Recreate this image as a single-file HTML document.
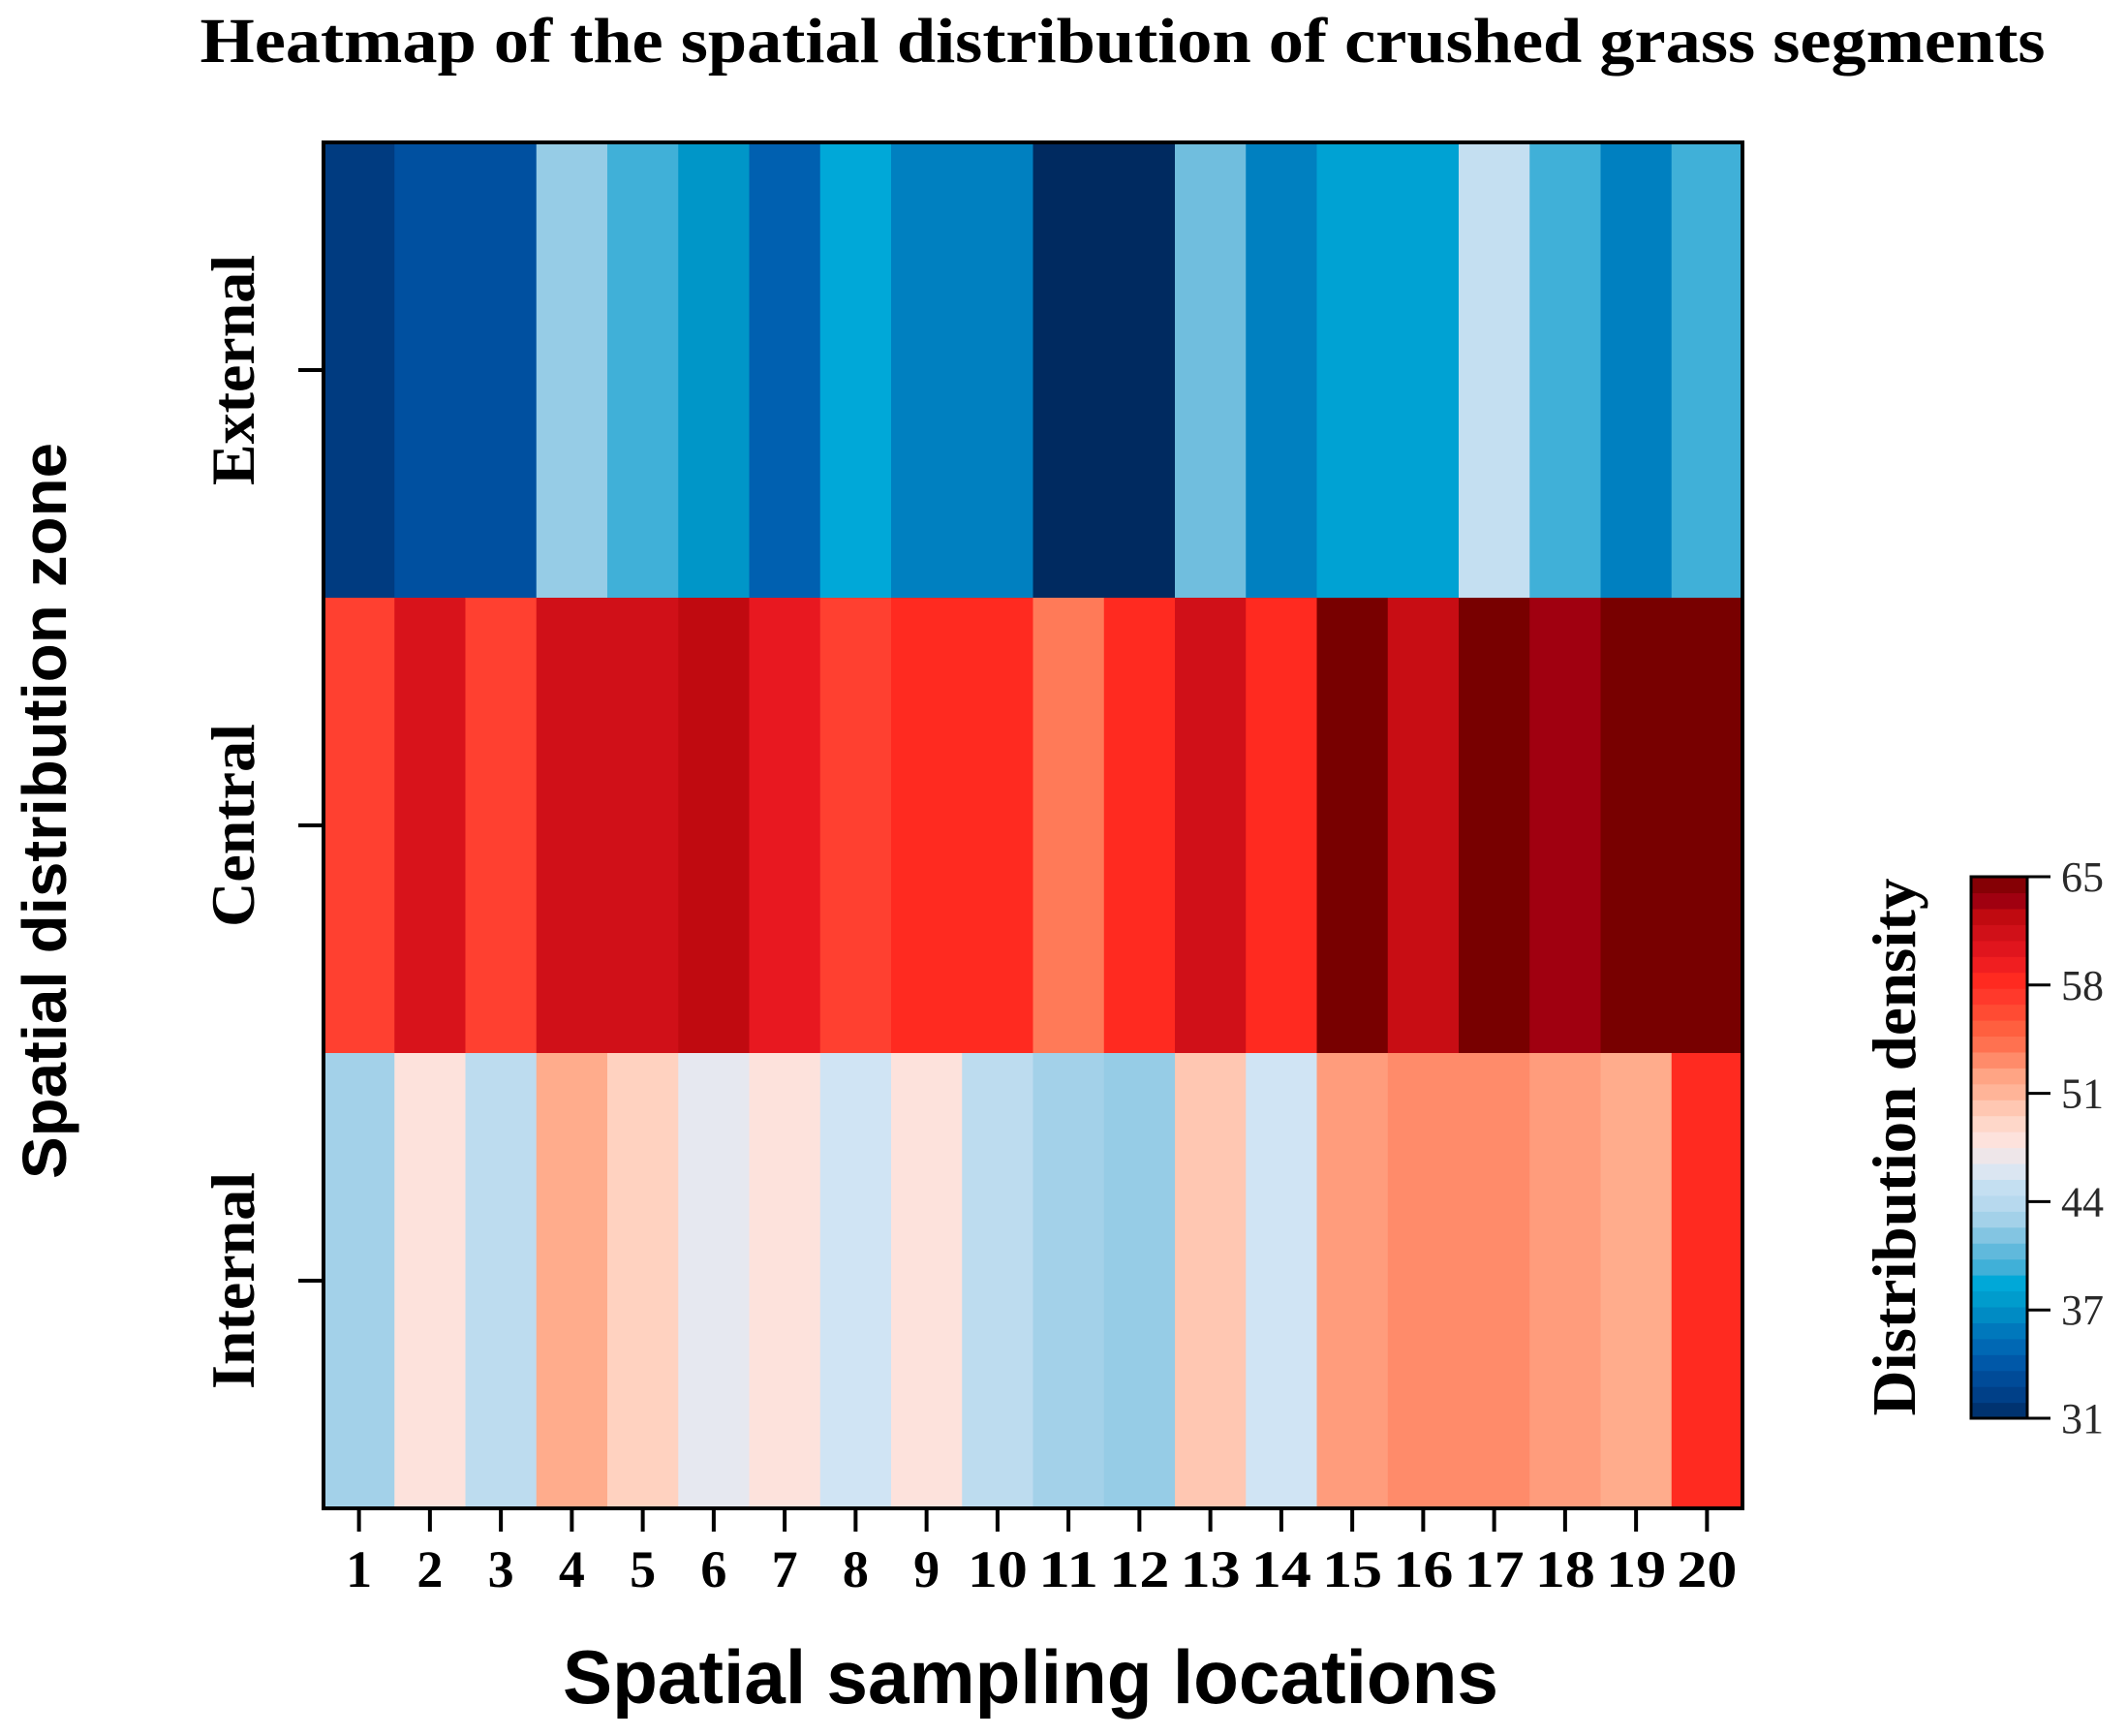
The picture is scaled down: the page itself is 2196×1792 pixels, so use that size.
<!DOCTYPE html>
<html><head><meta charset="utf-8"><style>
html,body{margin:0;padding:0;background:#fff;}
svg{display:block;}
</style></head><body>
<svg id="chart" width="2196" height="1792" viewBox="0 0 2196 1792" xmlns="http://www.w3.org/2000/svg">
<text x="1159" y="64" text-anchor="middle" font-family="Liberation Serif, serif" font-weight="bold" font-size="66" textLength="1905" lengthAdjust="spacingAndGlyphs">Heatmap of the spatial distribution of crushed grass segments</text>
<g id="cells"></g>
<rect x="334" y="147" width="1465" height="1410" fill="none" stroke="#000" stroke-width="4"/>
<g id="axes"></g>
<text transform="translate(68,837) rotate(-90)" text-anchor="middle" font-family="Liberation Sans, sans-serif" font-weight="bold" font-size="64" textLength="760" lengthAdjust="spacingAndGlyphs">Spatial distribution zone</text>
<text x="1064" y="1758" text-anchor="middle" font-family="Liberation Sans, sans-serif" font-weight="bold" font-size="78" textLength="966" lengthAdjust="spacingAndGlyphs">Spatial sampling locations</text>
<g id="cbar"></g>
<text transform="translate(1977,1184) rotate(-90)" text-anchor="middle" font-family="Liberation Serif, serif" font-weight="bold" font-size="64" textLength="555" lengthAdjust="spacingAndGlyphs">Distribution density</text>
</svg>
<script>
const categories = ["1","2","3","4","5","6","7","8","9","10","11","12","13","14","15","16","17","18","19","20"];
const zones = ["External","Central","Internal"];
const externalValues = [32,34,34,43,40.5,38,35,39.5,37,37,31,31,42,37,39,39,45.5,40.5,37,40.5];
const centralValues = [57,61,57,61.5,61.5,62.5,60,57,58.5,58.5,54,58.5,61.5,58.5,65,62,65,63.5,65,65];
const internalValues = [43.5,48.5,45,52,50,47,48.5,46,48.5,45,43.5,43,50.5,46,53,53.5,53.5,53,52,58.5];
const colorMin = 31, colorMax = 65;
const colorTicks = [31,37.8,44.6,51.4,58.2,65];

const stops = [[31,"#002a60"],[32,"#003b80"],[34,"#0050a0"],[35,"#0060b0"],[37,"#0080c0"],[38,"#0096c8"],[39.5,"#00a8d8"],[40.5,"#40b0d8"],[42,"#70bede"],[43,"#96cce6"],[44,"#b0d6ec"],[45.5,"#c4dff1"],[46,"#d0e4f4"],[47,"#e6e8f0"],[48.5,"#fde2dc"],[50,"#ffd2c0"],[51,"#ffbca4"],[52,"#ffac8c"],[53,"#ff9c7c"],[54,"#ff7a58"],[56,"#ff5636"],[57,"#ff4030"],[58.5,"#ff2a20"],[60,"#e81820"],[61.5,"#d01018"],[62.5,"#c00a10"],[63.5,"#a00010"],[65,"#780000"]];
function hex(c){return [1,3,5].map(i=>parseInt(c.substr(i,2),16));}
function color(v){
  if(v<=stops[0][0]) return stops[0][1];
  for(let i=1;i<stops.length;i++){
    if(v<=stops[i][0]){
      const a=stops[i-1],b=stops[i],t=(v-a[0])/(b[0]-a[0]);
      const ca=hex(a[1]),cb=hex(b[1]);
      return "rgb("+ca.map((x,k)=>Math.round(x+(cb[k]-x)*t)).join(",")+")";
    }
  }
  return stops[stops.length-1][1];
}
const NS="http://www.w3.org/2000/svg";
const X0=334,X1=1799,Y0=147,Y1=1557;
const cw=(X1-X0)/categories.length, rh=(Y1-Y0)/zones.length;
function xPos(i){return X0+i*cw;}
function yPos(j){return Y0+j*rh;}
const rows=[externalValues,centralValues,internalValues];
const cells=document.getElementById("cells");
rows.forEach((vals,j)=>{vals.forEach((v,i)=>{
  const r=document.createElementNS(NS,"rect");
  r.setAttribute("x",xPos(i));r.setAttribute("y",yPos(j));
  r.setAttribute("width",cw+0.6);r.setAttribute("height",rh+0.6);
  r.setAttribute("fill",color(v));
  
  
  cells.appendChild(r);
});});
const axes=document.getElementById("axes");
function line(x1,y1,x2,y2,w,parent){
  const l=document.createElementNS(NS,"line");
  l.setAttribute("x1",x1);l.setAttribute("y1",y1);l.setAttribute("x2",x2);l.setAttribute("y2",y2);
  l.setAttribute("stroke","#000");l.setAttribute("stroke-width",w);
  
  
  parent.appendChild(l);
}
categories.forEach((c,i)=>{
  const cx=xPos(i)+cw/2;
  line(cx,Y1,cx,Y1+24,4,axes);
  const t=document.createElementNS(NS,"text");
  t.setAttribute("x",cx);t.setAttribute("y",1638);
  t.setAttribute("text-anchor","middle");
  t.setAttribute("font-family","Liberation Serif, serif");
  t.setAttribute("font-weight","bold");t.setAttribute("font-size","54");
  if(c.length>1){t.setAttribute("textLength","62");t.setAttribute("lengthAdjust","spacingAndGlyphs");}
  t.textContent=c;
  
  
  axes.appendChild(t);
});
zones.forEach((z,j)=>{
  const cy=yPos(j)+rh/2;
  line(X0-26,cy,X0,cy,4,axes);
  const t=document.createElementNS(NS,"text");
  t.setAttribute("transform","translate(262,"+cy+") rotate(-90)");
  t.setAttribute("text-anchor","middle");
  t.setAttribute("font-family","Liberation Serif, serif");
  t.setAttribute("font-weight","bold");t.setAttribute("font-size","64");
  t.textContent=z;
  
  
  axes.appendChild(t);
});
// colorbar
const cb=document.getElementById("cbar");
const CX0=2035,CX1=2093,CY0=905,CY1=1464;
function cbY(v){return CY1-(v-colorMin)/(colorMax-colorMin)*(CY1-CY0);}
const nSteps=34;
for(let k=0;k<nSteps;k++){
  const v0=colorMin+k*(colorMax-colorMin)/nSteps, v1=v0+(colorMax-colorMin)/nSteps;
  const r=document.createElementNS(NS,"rect");
  r.setAttribute("x",CX0);r.setAttribute("y",cbY(v1));
  r.setAttribute("width",CX1-CX0);r.setAttribute("height",cbY(v0)-cbY(v1)+0.6);
  r.setAttribute("fill",color((v0+v1)/2));
  
  
  cb.appendChild(r);
}
const fr=document.createElementNS(NS,"rect");
fr.setAttribute("x",CX0);fr.setAttribute("y",CY0);fr.setAttribute("width",CX1-CX0);fr.setAttribute("height",CY1-CY0);
fr.setAttribute("fill","none");fr.setAttribute("stroke","#000");fr.setAttribute("stroke-width","3");


cb.appendChild(fr);
colorTicks.forEach(v=>{
  const y=cbY(v);
  line(CX1,y,CX1+24,y,3,cb);
  const t=document.createElementNS(NS,"text");
  t.setAttribute("x",2128);t.setAttribute("y",y+15);
  t.setAttribute("font-family","Liberation Serif, serif");
  t.setAttribute("font-size","44");t.setAttribute("fill","#2a2a2a");
  t.textContent=Math.floor(v);
  
  
  cb.appendChild(t);
});
</script>
</body></html>
